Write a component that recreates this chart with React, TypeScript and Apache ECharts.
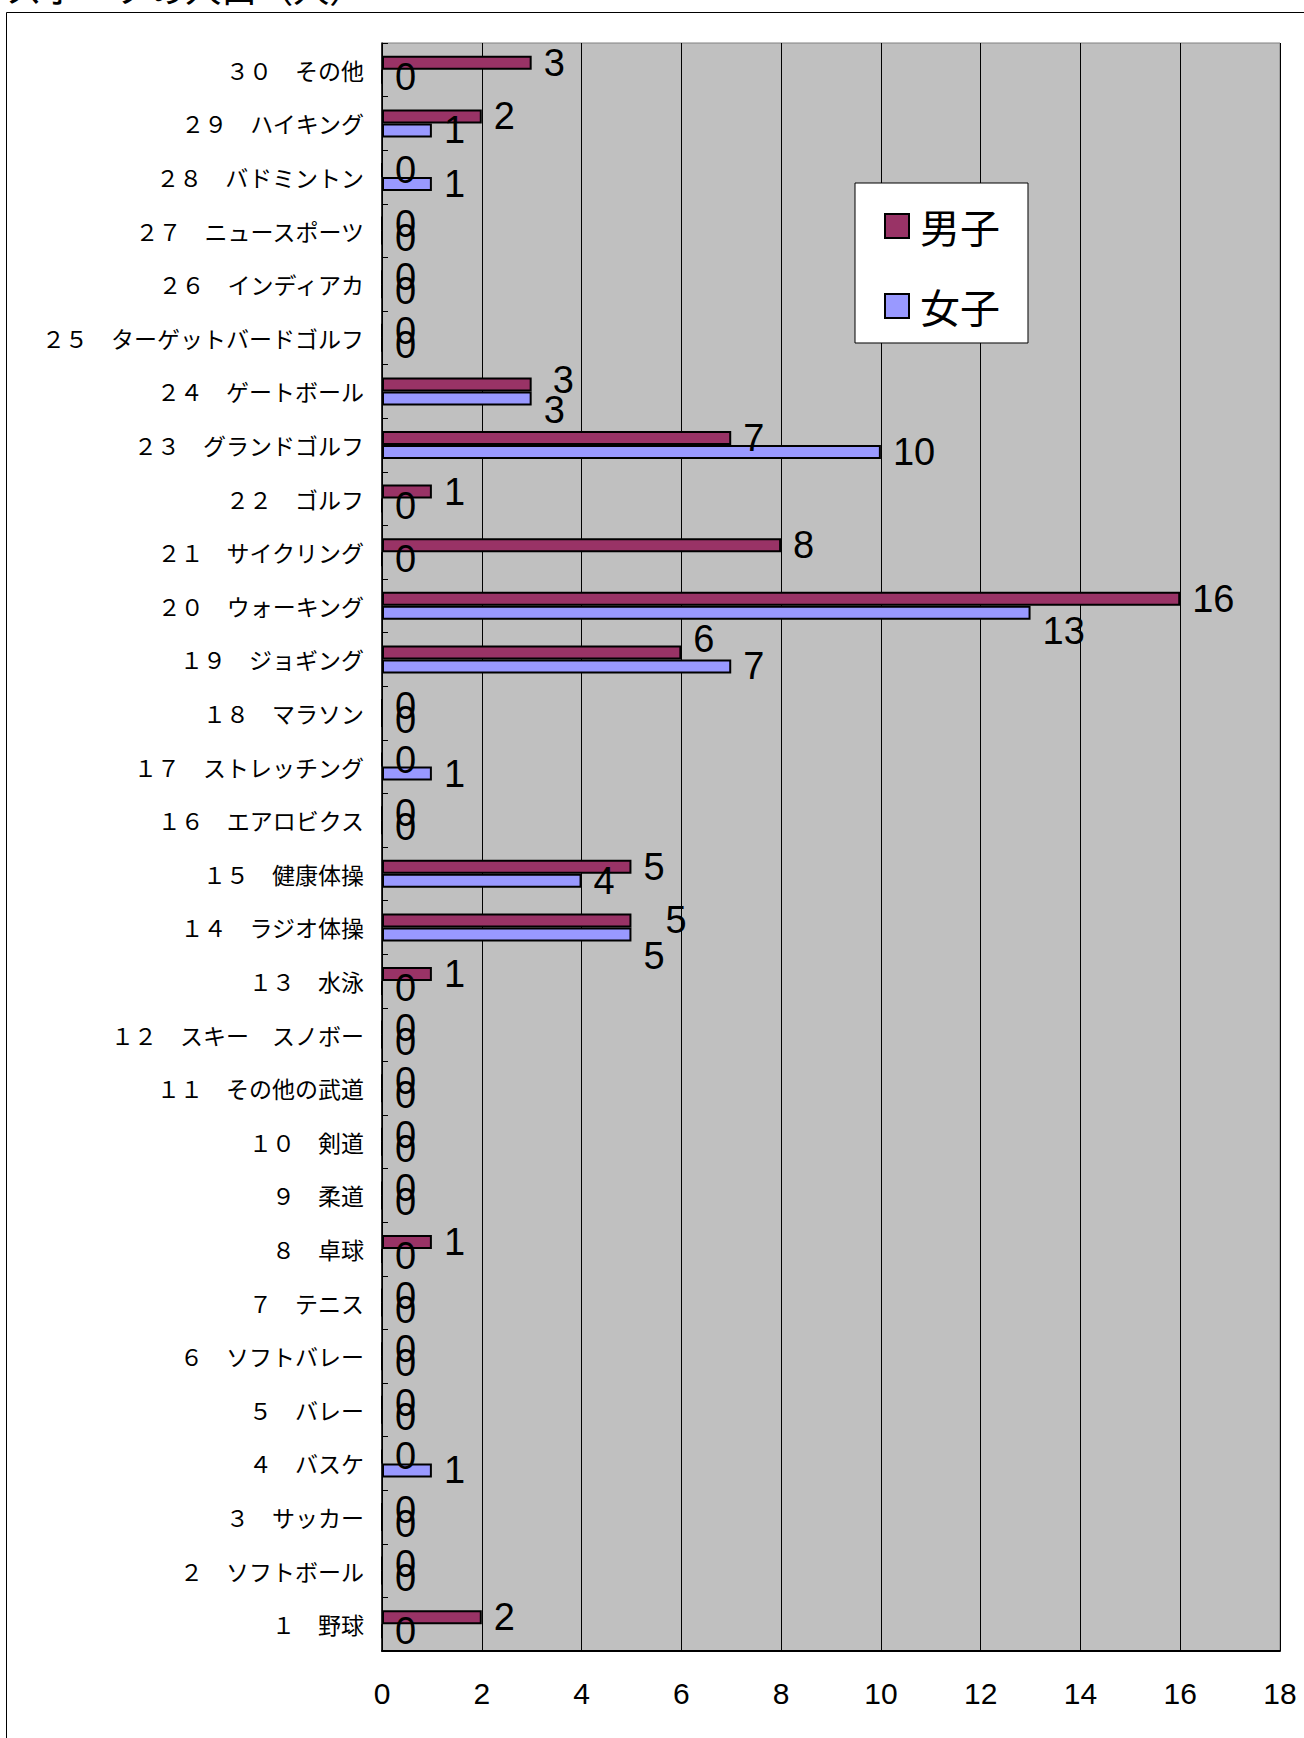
import React, { useEffect, useRef } from "react";
import * as echarts from "echarts";

const titleText = "スポーツの人口（人）";
const seriesNames = ["男子", "女子"];
const categories = [
  "１　野球", "２　ソフトボール", "３　サッカー", "４　バスケ", "５　バレー",
  "６　ソフトバレー", "７　テニス", "８　卓球", "９　柔道", "１０　剣道",
  "１１　その他の武道", "１２　スキー　スノボー", "１３　水泳", "１４　ラジオ体操", "１５　健康体操",
  "１６　エアロビクス", "１７　ストレッチング", "１８　マラソン", "１９　ジョギング", "２０　ウォーキング",
  "２１　サイクリング", "２２　ゴルフ", "２３　グランドゴルフ", "２４　ゲートボール", "２５　ターゲットバードゴルフ",
  "２６　インディアカ", "２７　ニュースポーツ", "２８　バドミントン", "２９　ハイキング", "３０　その他",
];
const maleValues = [2, 0, 0, 0, 0, 0, 0, 1, 0, 0, 0, 0, 1, 5, 5, 0, 0, 0, 6, 16, 8, 1, 7, 3, 0, 0, 0, 0, 2, 3];
const femaleValues = [0, 0, 0, 1, 0, 0, 0, 0, 0, 0, 0, 0, 0, 5, 4, 0, 1, 0, 7, 13, 0, 0, 10, 3, 0, 0, 0, 1, 1, 0];
const xTicks = { min: 0, max: 18, interval: 2 };

// label nudges (as in the reference layout), keyed by category index
const maleLabelOffsets: Record<number, number[]> = { 13: [22, 0], 18: [0, -13], 23: [9, -4] };
const femaleLabelOffsets: Record<number, number[]> = { 13: [0, 22], 19: [0, 18], 23: [0, 12] };

const MALE = "#993366";
const FEMALE = "#9999FF";
const CJK = "'Noto Sans CJK JP', 'Noto Sans', sans-serif";
const LAT = "'Liberation Sans', Arial, sans-serif";

function buildData(values: number[], offsets: Record<number, number[]>) {
  return values.map((v, i) =>
    offsets[i] ? { value: v, label: { offset: offsets[i] } } : { value: v }
  );
}

export default function App() {
  const ref = useRef<HTMLDivElement>(null);
  useEffect(() => {
    if (!ref.current) return;
    const chart = echarts.init(ref.current, undefined, { renderer: "svg" });
    const labelCfg = {
      show: true,
      position: "right",
      distance: 12,
      fontSize: 38,
      color: "#000",
      fontFamily: LAT,
    };
    chart.setOption({
      animation: false,
      backgroundColor: "#fff",
      graphic: [
        {
          type: "rect",
          shape: { x: 6.5, y: 12.5, width: 1400, height: 1800 },
          style: { fill: "none", stroke: "#000", lineWidth: 1 },
          silent: true,
        },
        {
          type: "text",
          x: 6,
          y: -13,
          style: {
            text: titleText,
            fontSize: 36,
            fontFamily: CJK,
            fill: "#000",
            textVerticalAlign: "middle",
          },
          silent: true,
        },
      ],
      legend: {
        data: seriesNames,
        orient: "vertical",
        left: 855,
        top: 183,
        itemWidth: 24,
        itemHeight: 24,
        itemGap: 40,
        icon: "rect",
        padding: [23, 28, 17, 29],
        backgroundColor: "#fff",
        borderColor: "#000",
        borderWidth: 1,
        itemStyle: { borderColor: "#000", borderWidth: 2 },
        textStyle: { fontSize: 40, fontFamily: CJK, color: "#000", padding: [0, 0, 0, 6] },
      },
      grid: {
        left: 382,
        top: 43,
        width: 898,
        height: 1608,
        show: true,
        backgroundColor: "#c0c0c0",
        borderColor: "#808080",
        borderWidth: 1,
        containLabel: false,
      },
      xAxis: {
        type: "value",
        min: xTicks.min,
        max: xTicks.max,
        interval: xTicks.interval,
        axisLine: { show: true, lineStyle: { color: "#000", width: 2 } },
        axisTick: { show: false },
        axisLabel: { fontSize: 30, color: "#000", fontFamily: LAT, margin: 27 },
        splitLine: { show: true, lineStyle: { color: "#000", width: 1 } },
      },
      yAxis: {
        type: "category",
        data: categories,
        axisLine: { show: true, lineStyle: { color: "#000", width: 1.5 } },
        axisTick: { show: true, inside: true, length: 6, lineStyle: { color: "#000" } },
        axisLabel: { fontSize: 23, color: "#000", fontFamily: CJK, margin: 18 },
        splitLine: { show: false },
      },
      series: [
        {
          name: seriesNames[0],
          type: "bar",
          data: buildData(maleValues, maleLabelOffsets),
          barWidth: 14,
          barGap: "0%",
          itemStyle: { color: MALE, borderColor: "#000", borderWidth: 2 },
          label: labelCfg,
        },
        {
          name: seriesNames[1],
          type: "bar",
          data: buildData(femaleValues, femaleLabelOffsets),
          barWidth: 14,
          barGap: "0%",
          itemStyle: { color: FEMALE, borderColor: "#000", borderWidth: 2 },
          label: labelCfg,
        },
      ],
    });
    return () => chart.dispose();
  }, []);
  return (
    <div
      ref={ref}
      style={{ position: "absolute", left: 0, top: 0, width: 1304, height: 1738 }}
    />
  );
}
